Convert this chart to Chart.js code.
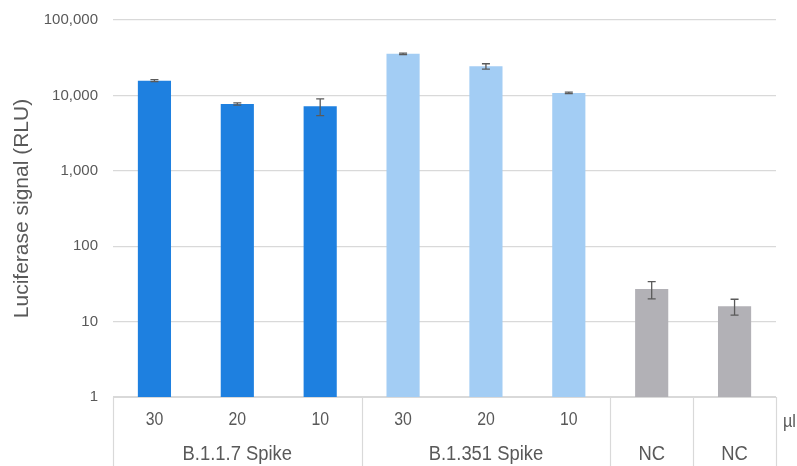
<!DOCTYPE html>
<html>
<head>
<meta charset="utf-8">
<script src="https://cdn.jsdelivr.net/npm/chart.js@4"></script>
<style>
  html, body { margin: 0; padding: 0; background: #fff; }
  #wrap { width: 797px; height: 466px; }
</style>
</head>
<body>
<div id="wrap"><canvas id="lucChart"></canvas></div>
<script>
  // data
  const doses = ['30', '20', '10', '30', '20', '10', '', ''];
  const groups = ['B.1.1.7 Spike', 'B.1.1.7 Spike', 'B.1.1.7 Spike',
                  'B.1.351 Spike', 'B.1.351 Spike', 'B.1.351 Spike', 'NC', 'NC'];
  const signal = [15700, 7700, 7200, 35600, 24300, 10800, 27, 16];
  const signalErr = [500, 250, 1800, 800, 2000, 250, 7, 3.8];
  const barColors = ['#1e80e0', '#1e80e0', '#1e80e0',
                     '#a3cdf4', '#a3cdf4', '#a3cdf4', '#b2b1b6', '#b2b1b6'];
  const unitLabel = 'µl';

  const txtColor = '#595959';
  const gridColor = '#d9d9d9';
  const fontFam = '"Liberation Sans", Arial, sans-serif';

  // error bars drawn on the bar scale
  const errorBars = {
    id: 'errorBars',
    afterDatasetsDraw(chart) {
      const ctx = chart.ctx;
      const y = chart.scales.y;
      const meta = chart.getDatasetMeta(0);
      ctx.save();
      ctx.strokeStyle = '#5a5a5a';
      ctx.lineWidth = 1.3;
      meta.data.forEach((bar, i) => {
        const hi = y.getPixelForValue(signal[i] + signalErr[i]);
        const lo = y.getPixelForValue(signal[i] - signalErr[i]);
        const x = bar.x;
        ctx.beginPath();
        ctx.moveTo(x, hi); ctx.lineTo(x, lo);
        ctx.moveTo(x - 4, hi); ctx.lineTo(x + 4, hi);
        ctx.moveTo(x - 4, lo); ctx.lineTo(x + 4, lo);
        ctx.stroke();
      });
      ctx.restore();
    }
  };

  // narrow text helper (labels in the table look condensed)
  function narrowText(ctx, txt, x, y, sx) {
    ctx.save();
    ctx.translate(x, y);
    ctx.scale(sx, 1);
    ctx.fillText(txt, 0, 0);
    ctx.restore();
  }

  // two-row category table under the plot
  const groupAxis = {
    id: 'groupAxis',
    afterDraw(chart) {
      const ctx = chart.ctx;
      const xs = chart.scales.x;
      const area = chart.chartArea;
      const bottom = chart.height;
      const n = doses.length;
      const step = (area.right - area.left) / n;
      ctx.save();
      ctx.strokeStyle = gridColor;
      ctx.lineWidth = 1.2;
      ctx.beginPath();
      ctx.moveTo(area.left, area.bottom + 0.5);
      ctx.lineTo(area.right, area.bottom + 0.5);
      ctx.stroke();
      const edges = [0];
      for (let i = 1; i < n; i++) {
        if (groups[i] !== groups[i - 1] || groups[i] === 'NC') edges.push(i);
      }
      edges.push(n);
      edges.forEach(e => {
        const x = Math.round(area.left + e * step) + 0.5;
        ctx.beginPath();
        ctx.moveTo(x, area.bottom);
        ctx.lineTo(x, bottom);
        ctx.stroke();
      });
      ctx.fillStyle = txtColor;
      ctx.textAlign = 'center';
      ctx.textBaseline = 'middle';
      ctx.font = '18px ' + fontFam;
      doses.forEach((d, i) => {
        if (d) narrowText(ctx, d, xs.getPixelForValue(i), area.bottom + 23, 0.88);
      });
      ctx.font = '20px ' + fontFam;
      for (let k = 0; k < edges.length - 1; k++) {
        const cx = area.left + (edges[k] + edges[k + 1]) / 2 * step;
        narrowText(ctx, groups[edges[k]], cx, area.bottom + 57, 0.92);
      }
      ctx.textAlign = 'left';
      ctx.font = '18px ' + fontFam;
      narrowText(ctx, unitLabel, area.right + 7, area.bottom + 25, 0.9);
      ctx.restore();
    }
  };

  const lucCtx = document.getElementById('lucChart').getContext('2d');
  const lucChart = new Chart(lucCtx, {
    type: 'bar',
    data: {
      labels: doses.map((d, i) => groups[i] + ' ' + d),
      datasets: [{
        label: 'Luciferase signal',
        data: signal,
        backgroundColor: barColors,
        barPercentage: 0.4,
        categoryPercentage: 1.0
      }]
    },
    options: {
      responsive: true,
      maintainAspectRatio: false,
      animation: false,
      layout: { padding: { top: 0, right: 21, bottom: 69, left: 0 } },
      plugins: {
        legend: { display: false },
        tooltip: { enabled: false }
      },
      scales: {
        x: {
          display: false,
          grid: { display: false }
        },
        y: {
          type: 'logarithmic',
          min: 1,
          max: 100000,
          afterFit(scale) {
            scale.width = 113;
            scale.paddingTop = 20;
          },
          border: { display: false },
          grid: { color: gridColor, lineWidth: 1.3, drawTicks: false },
          afterBuildTicks(scale) {
            scale.ticks = [1, 10, 100, 1000, 10000, 100000].map(v => ({ value: v }));
          },
          ticks: {
            color: txtColor,
            padding: 15,
            font: { family: fontFam, size: 15 },
            callback: v => Number(v).toLocaleString('en-US')
          },
          title: {
            display: true,
            text: 'Luciferase signal (RLU)',
            color: txtColor,
            font: { family: fontFam, size: 21 },
            padding: { top: 10, bottom: 6 }
          }
        }
      }
    },
    plugins: [errorBars, groupAxis]
  });
</script>
</body>
</html>
